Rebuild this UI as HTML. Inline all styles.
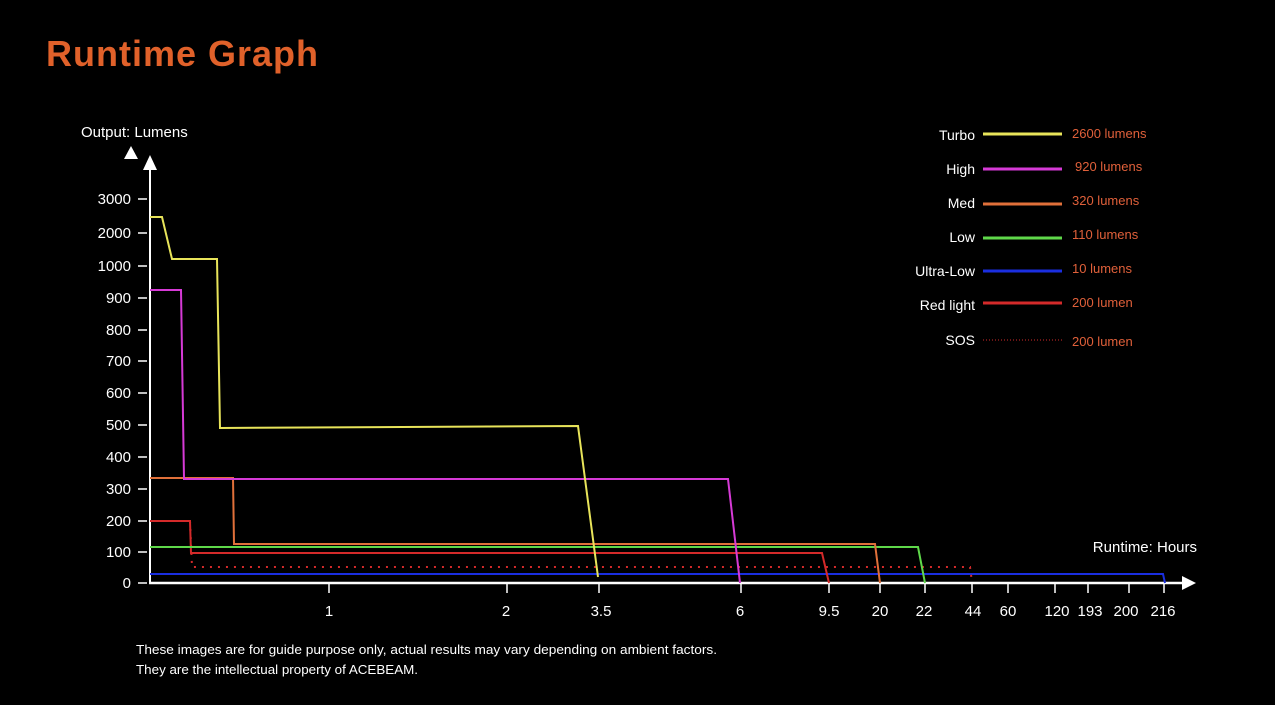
<!DOCTYPE html>
<html><head><meta charset="utf-8"><style>
html,body{margin:0;padding:0;background:#000;}
body{width:1275px;height:700px;overflow:hidden;}
svg text{font-family:"Liberation Sans","DejaVu Sans",sans-serif;}
</style></head><body>
<svg width="1275" height="700" viewBox="0 0 1275 700" xmlns="http://www.w3.org/2000/svg">
<rect width="1275" height="700" fill="#000"/>
<text x="46" y="66" font-size="36" fill="#e0612a" font-weight="bold" letter-spacing="1">Runtime Graph</text>
<text x="81" y="137" font-size="15" fill="#fff">Output: Lumens</text>
<polygon points="124,159 131,146 138,159" fill="#fff"/>
<polygon points="143,170 150,155 157,170" fill="#fff"/>
<line x1="150" y1="166" x2="150" y2="584" stroke="#fff" stroke-width="2"/>
<line x1="149" y1="583" x2="1185" y2="583" stroke="#fff" stroke-width="2.5"/>
<polygon points="1182,576 1196,583 1182,590" fill="#fff"/>
<g fill="#fff" font-size="15" text-anchor="end">
<text x="131" y="204">3000</text><text x="131" y="238">2000</text><text x="131" y="271">1000</text>
<text x="131" y="303">900</text><text x="131" y="335">800</text><text x="131" y="366">700</text>
<text x="131" y="398">600</text><text x="131" y="430">500</text><text x="131" y="462">400</text>
<text x="131" y="494">300</text><text x="131" y="526">200</text><text x="131" y="557">100</text>
<text x="131" y="588">0</text>
</g>
<g stroke="#fff" stroke-width="1.5">
<line x1="138" y1="199" x2="147" y2="199"/><line x1="138" y1="233" x2="147" y2="233"/><line x1="138" y1="266" x2="147" y2="266"/>
<line x1="138" y1="298" x2="147" y2="298"/><line x1="138" y1="330" x2="147" y2="330"/><line x1="138" y1="361" x2="147" y2="361"/>
<line x1="138" y1="393" x2="147" y2="393"/><line x1="138" y1="425" x2="147" y2="425"/><line x1="138" y1="457" x2="147" y2="457"/>
<line x1="138" y1="489" x2="147" y2="489"/><line x1="138" y1="521" x2="147" y2="521"/><line x1="138" y1="552" x2="147" y2="552"/>
<line x1="138" y1="583" x2="147" y2="583"/>
</g>
<g stroke="#fff" stroke-width="1.5">
<line x1="329" y1="583" x2="329" y2="593"/><line x1="507" y1="583" x2="507" y2="593"/><line x1="599" y1="583" x2="599" y2="593"/>
<line x1="741" y1="583" x2="741" y2="593"/><line x1="829" y1="583" x2="829" y2="593"/><line x1="880" y1="583" x2="880" y2="593"/>
<line x1="925" y1="583" x2="925" y2="593"/><line x1="972" y1="583" x2="972" y2="593"/><line x1="1008" y1="583" x2="1008" y2="593"/>
<line x1="1055" y1="583" x2="1055" y2="593"/><line x1="1088" y1="583" x2="1088" y2="593"/><line x1="1129" y1="583" x2="1129" y2="593"/>
<line x1="1164" y1="583" x2="1164" y2="593"/>
</g>
<g fill="#fff" font-size="15" text-anchor="middle">
<text x="329" y="616">1</text><text x="506" y="616">2</text><text x="601" y="616">3.5</text><text x="740" y="616">6</text>
<text x="829" y="616">9.5</text><text x="880" y="616">20</text><text x="924" y="616">22</text><text x="973" y="616">44</text>
<text x="1008" y="616">60</text><text x="1057" y="616">120</text><text x="1090" y="616">193</text><text x="1126" y="616">200</text>
<text x="1163" y="616">216</text>
</g>
<text x="1197" y="552" font-size="15" fill="#fff" text-anchor="end">Runtime: Hours</text>
<g fill="none" stroke-width="2">
<polyline points="150,574 1163,574 1165,583" stroke="#1a2ee0"/>
<polyline points="150,521 190,521 192,567 970,567 972,582" stroke="#d42a2a" stroke-dasharray="2,6" stroke-width="2"/>
<polyline points="150,521 190,521 191,553 822,553 829,583" stroke="#d42a2a"/>
<polyline points="150,547 918,547 925,583" stroke="#5fd84a"/>
<polyline points="150,478 233,478 234,544 875,544 880,583" stroke="#e0703a"/>
<polyline points="150,290 181,290 184,479 728,479 740,583" stroke="#d63ad6"/>
<polyline points="150,217 162,217 172,259 217,259 220,428 578,426 598,577" stroke="#e8e45a"/>
</g>
<g font-size="14" fill="#fff" text-anchor="end">
<text x="975" y="140">Turbo</text><text x="975" y="174">High</text><text x="975" y="208">Med</text>
<text x="975" y="242">Low</text><text x="975" y="276">Ultra-Low</text><text x="975" y="310">Red light</text>
<text x="975" y="345">SOS</text>
</g>
<g stroke-width="3">
<line x1="983" y1="134" x2="1062" y2="134" stroke="#e8e45a"/>
<line x1="983" y1="169" x2="1062" y2="169" stroke="#d63ad6"/>
<line x1="983" y1="204" x2="1062" y2="204" stroke="#e0703a"/>
<line x1="983" y1="238" x2="1062" y2="238" stroke="#5fd84a"/>
<line x1="983" y1="271" x2="1062" y2="271" stroke="#1a2ee0"/>
<line x1="983" y1="303" x2="1062" y2="303" stroke="#d42a2a"/>
<line x1="983" y1="340" x2="1062" y2="340" stroke="#d42a2a" stroke-width="1" stroke-dasharray="1,2"/>
</g>
<g font-size="13" fill="#e0603a">
<text x="1072" y="138">2600 lumens</text><text x="1075" y="171">920 lumens</text><text x="1072" y="205">320 lumens</text>
<text x="1072" y="239">110 lumens</text><text x="1072" y="273">10 lumens</text><text x="1072" y="307">200 lumen</text>
<text x="1072" y="346">200 lumen</text>
</g>
<text x="136" y="654" font-size="13" fill="#fff" textLength="581" lengthAdjust="spacingAndGlyphs">These images are for guide purpose only, actual results may vary depending on ambient factors.</text>
<text x="136" y="674" font-size="13" fill="#fff" textLength="282" lengthAdjust="spacingAndGlyphs">They are the intellectual property of ACEBEAM.</text>
</svg>
</body></html>
